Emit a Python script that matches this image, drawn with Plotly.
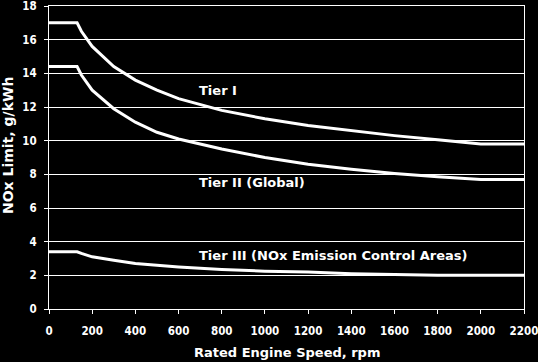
import plotly.graph_objects as go

rpm = [0, 130, 150, 200, 300, 400, 500, 600, 800, 1000, 1200, 1400, 1600, 1800, 2000, 2200]
tier1 = [17.0, 17.0, 16.5, 15.6, 14.4, 13.6, 13.0, 12.5, 11.8, 11.3, 10.9, 10.6, 10.3, 10.05, 9.8, 9.8]
tier2 = [14.4, 14.4, 13.9, 13.0, 11.9, 11.1, 10.5, 10.1, 9.5, 9.0, 8.6, 8.3, 8.05, 7.85, 7.7, 7.7]
tier3 = [3.4, 3.4, 3.3, 3.1, 2.9, 2.7, 2.6, 2.5, 2.35, 2.25, 2.2, 2.1, 2.05, 2.0, 2.0, 2.0]

x_ticks = [0, 200, 400, 600, 800, 1000, 1200, 1400, 1600, 1800, 2000, 2200]
y_ticks = [0, 2, 4, 6, 8, 10, 12, 14, 16, 18]

labels = ["Tier I", "Tier II (Global)", "Tier III (NOx Emission Control Areas)"]
label_x = [685, 685, 685]
label_y = [13.0, 7.5, 3.2]

fig = go.Figure()
for ys in (tier1, tier2, tier3):
    fig.add_trace(go.Scatter(x=rpm, y=ys, mode="lines",
                             line=dict(color="white", width=3), showlegend=False))

tickfont = dict(family="DejaVu Sans Condensed, DejaVu Sans", size=11.5, color="white", weight="bold")
bold = dict(family="DejaVu Sans", color="white", weight="bold")
for t, xx, yy in zip(labels, label_x, label_y):
    fig.add_annotation(x=xx, y=yy, xref="x", yref="y", text=t,
                       showarrow=False, xanchor="left", yanchor="middle",
                       font=dict(bold, size=13))

fig.add_annotation(x=0.5, y=-0.145, xref="paper", yref="paper", text="Rated Engine Speed, rpm",
                   showarrow=False, xanchor="center", yanchor="middle", font=dict(bold, size=13))
fig.add_annotation(x=-0.085, y=0.54, xref="paper", yref="paper", text="NOx Limit, g/kWh",
                   textangle=-90, showarrow=False, xanchor="center", yanchor="middle",
                   font=dict(bold, size=14))

fig.update_layout(
    width=538, height=362,
    margin=dict(l=49, r=14, t=6, b=53),
    paper_bgcolor="black", plot_bgcolor="black",
    xaxis=dict(range=[0, 2200], tickvals=x_ticks, automargin=False, ticklabeloverflow="allow",
               showgrid=False, zeroline=False, showline=True, linecolor="white", linewidth=1,
               mirror=True, ticks="outside", ticklen=4, tickcolor="white", tickfont=tickfont,
               ticklabelstandoff=7),
    yaxis=dict(range=[0, 18], tickvals=y_ticks, automargin=False, ticklabeloverflow="allow",
               showgrid=True, gridcolor="white", gridwidth=1, zeroline=False,
               showline=True, linecolor="white", linewidth=1, mirror=True,
               ticks="outside", ticklen=4, tickcolor="white", tickfont=tickfont,
               ticklabelstandoff=5),
)

fig.write_html("out.html", config={"displayModeBar": False},
               post_script="document.body.style.margin='0';document.body.style.background='black';")
